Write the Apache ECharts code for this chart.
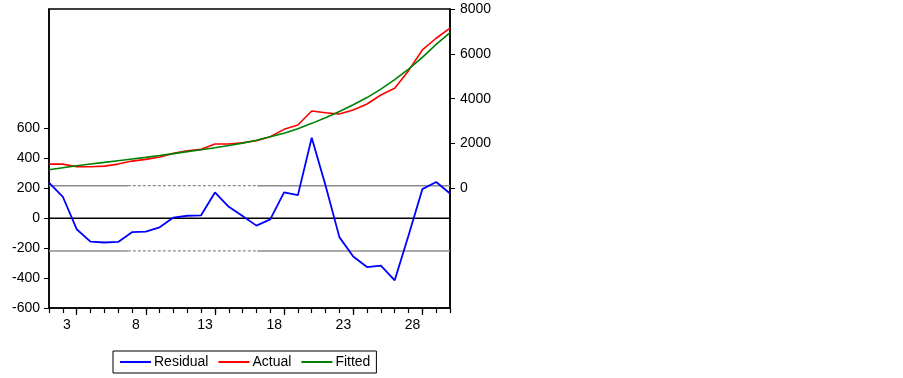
<!DOCTYPE html>
<html>
<head>
<meta charset="utf-8">
<script src="https://cdn.jsdelivr.net/npm/echarts@6/dist/echarts.min.js"></script>
<style>html,body{margin:0;padding:0;background:#fff}#c{width:903px;height:378px}</style>
</head>
<body>
<div id="c"></div>
<script>
// ---- data ----
const categories = ["2","3","4","5","6","7","8","9","10","11","12","13","14","15","16","17","18","19","20","21","22","23","24","25","26","27","28","29","30","31"];
const residual = [239,144,-73,-156,-162,-158,-93,-89,-60,5,17,20,173,77,15,-49,-7,173,155,539,220,-126,-255,-326,-317,-415,-115,195,243,166];
const actual = [1084,1084,964,964,995,1084,1218,1294,1400,1562,1679,1741,1977,1977,2036,2125,2304,2634,2826,3451,3375,3317,3496,3763,4165,4464,5250,6174,6696,7143];
const fitted = [830,920,1010,1090,1160,1235,1310,1385,1465,1550,1640,1720,1810,1910,2020,2150,2300,2460,2660,2900,3150,3430,3730,4050,4430,4850,5320,5840,6420,6950];
const leftTicks = [-600,-400,-200,0,200,400,600];
const rightTicks = [0,2000,4000,6000,8000];
const stdErr = 218;
const xLabels = ["3","8","13","18","23","28"];

// ---- chart ----
const FONT = "Liberation Sans, Arial, sans-serif";
const n = categories.length;
const GRID = {left: 49, right: 453, top: 9, bottom: 70};
const breaks = [5.7, 15.06];
function seg(y, a, b) { return [[a, y], [b, y]]; }
const bandStyleSolid = {color: '#8c8c8c', width: 1.5, type: 'solid'};
const bandStyleDash = {color: '#8c8c8c', width: 1.2, type: [3, 2]};
const bandSeries = [];
[stdErr, -stdErr].forEach(v => {
  bandSeries.push({type:'line', xAxisIndex:1, yAxisIndex:0, data: seg(v, 0, breaks[0]), symbol:'none', silent:true, lineStyle: bandStyleSolid, z:1});
  bandSeries.push({type:'line', xAxisIndex:1, yAxisIndex:0, data: seg(v, breaks[0], breaks[1]), symbol:'none', silent:true, lineStyle: bandStyleDash, z:1});
  bandSeries.push({type:'line', xAxisIndex:1, yAxisIndex:0, data: seg(v, breaks[1], n-1), symbol:'none', silent:true, lineStyle: bandStyleSolid, z:1});
});
bandSeries.push({type:'line', xAxisIndex:1, yAxisIndex:0, data: seg(0, 0, n-1), symbol:'none', silent:true, lineStyle:{color:'#000', width:1.5}, z:1});

const chart = echarts.init(document.getElementById('c'), null, {renderer:'canvas'});
chart.setOption({
  animation: false,
  backgroundColor: '#fff',
  textStyle: {fontFamily: FONT},
  grid: Object.assign({show: true, borderColor: '#000', borderWidth: 1.5, backgroundColor: 'transparent'}, GRID),
  legend: {
    left: 113, top: 351,
    data: ['Residual','Actual','Fitted'],
    icon: 'rect',
    itemWidth: 31, itemHeight: 2, itemGap: 10,
    padding: [4, 6, 4, 7],
    borderColor: '#000', borderWidth: 1,
    textStyle: {fontFamily: FONT, fontSize: 14, color: '#000', padding: [0,0,0,-2]}
  },
  xAxis: [
    {
      type: 'category', data: categories, boundaryGap: false, position: 'bottom',
      axisLine: {show: true, onZero: false, lineStyle: {color: '#000', width: 1.5}},
      axisTick: {show: true, interval: 0, length: 5, lineStyle: {color: '#000', width: 1.2}},
      axisLabel: {
        interval: (i, v) => xLabels.indexOf(v) >= 0,
        fontSize: 14, color: '#000', fontFamily: FONT, margin: 10, padding: [0,0,0,8]
      },
      splitLine: {show: false}
    },
    {
      type: 'value', min: 0, max: n - 1, interval: 1, position: 'top', show: false,
      axisLine: {show: false, onZero: false}
    },
    {
      type: 'category', data: categories, boundaryGap: false, position: 'bottom',
      axisLine: {show: false, onZero: false},
      axisTick: {show: true, interval: (i) => (i - 2) % 5 === 0, length: 7, lineStyle: {color: '#000', width: 1.2}},
      axisLabel: {show: false}, splitLine: {show: false}
    }
  ],
  yAxis: [
    {
      type: 'value', min: -600, max: 1400, interval: 200, position: 'left',
      axisLine: {show: true, onZero: false, lineStyle: {color: '#000', width: 1.5}},
      axisTick: {show: true, length: 5, customValues: leftTicks, lineStyle: {color: '#000', width: 1}},
      axisLabel: {customValues: leftTicks, fontSize: 14, color: '#000', fontFamily: FONT, margin: 9},
      splitLine: {show: false}
    },
    {
      type: 'value', min: -16000/3, max: 8000, position: 'right',
      axisLine: {show: true, onZero: false, lineStyle: {color: '#000', width: 1.5}},
      axisTick: {show: true, length: 5, customValues: rightTicks, lineStyle: {color: '#000', width: 1}},
      axisLabel: {customValues: rightTicks, formatter: (v) => String(Math.round(v)), fontSize: 14, color: '#000', fontFamily: FONT, margin: 10},
      splitLine: {show: false}
    }
  ],
  series: bandSeries.concat([
    {name: 'Residual', type: 'line', xAxisIndex: 0, yAxisIndex: 0, data: residual, symbol: 'none', lineStyle: {color: '#0000ff', width: 1.8}, itemStyle: {color: '#0000ff'}, z: 3},
    {name: 'Actual', type: 'line', xAxisIndex: 0, yAxisIndex: 1, data: actual, symbol: 'none', lineStyle: {color: '#ff0000', width: 1.6}, itemStyle: {color: '#ff0000'}, z: 3},
    {name: 'Fitted', type: 'line', xAxisIndex: 0, yAxisIndex: 1, data: fitted, symbol: 'none', lineStyle: {color: '#008000', width: 1.6}, itemStyle: {color: '#008000'}, z: 4}
  ])
});
</script>
</body>
</html>
